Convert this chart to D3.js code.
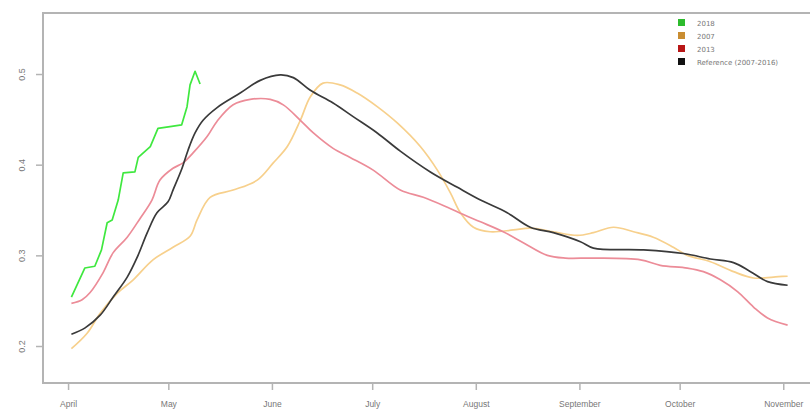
<!DOCTYPE html>
<html>
<head>
<meta charset="utf-8">
<script src="https://cdn.jsdelivr.net/npm/d3@7"></script>
<style>
  body { margin: 0; background: #fff; }
  svg { display: block; font-family: "DejaVu Sans", sans-serif; }
</style>
</head>
<body>
<svg id="chart" width="810" height="409"></svg>
<script>
// days are counted from April 1
var monthDays = [0, 30, 61, 91, 122, 153, 183, 214];
var monthNames = ['April', 'May', 'June', 'July', 'August', 'September', 'October', 'November'];
var yTicks = [0.2, 0.3, 0.4, 0.5];

var green2018Days = [1, 5, 8, 10, 11.7, 13.2, 15, 16.5, 20, 21, 24.6, 26.9, 30.5, 34, 35.6, 36.5, 38, 39.5];
var green2018 = [0.254, 0.286, 0.288, 0.306, 0.336, 0.339, 0.361, 0.391, 0.392, 0.408, 0.42, 0.44, 0.442, 0.444, 0.464, 0.488, 0.503, 0.489];

var orange2007Days = [1, 5.7, 9.6, 14.7, 19.5, 25.4, 31.4, 36.5, 38.6, 42.5, 49.4, 56.6, 61.4, 65.6, 69.5, 72.5, 76.3, 81.4, 86.5, 92.5, 98.5, 105.4, 110.5, 114.4, 117.4, 121.3, 126.3, 133.2, 138.3, 145.2, 152.4, 157.2, 163.2, 169.2, 175.1, 181.1, 185.3, 192.2, 199.1, 205.1, 211.1, 215.3];
var orange2007 = [0.197, 0.214, 0.236, 0.258, 0.273, 0.295, 0.309, 0.321, 0.339, 0.364, 0.372, 0.383, 0.402, 0.42, 0.449, 0.475, 0.49, 0.488, 0.479, 0.464, 0.446, 0.42, 0.394, 0.369, 0.347, 0.331, 0.326, 0.328, 0.33, 0.326, 0.322, 0.325, 0.331, 0.326, 0.32, 0.309, 0.3, 0.293, 0.282, 0.275, 0.276, 0.277];

var red2013Days = [1, 4.2, 6.6, 10.5, 13.5, 17.7, 21.6, 25.1, 27.5, 31.4, 34.4, 37.4, 41.6, 44.6, 49.4, 54.5, 60.5, 64.4, 69.5, 73.4, 79.3, 84.4, 91.3, 99.4, 106.3, 113.5, 118.3, 123.4, 130.2, 136.2, 143.4, 148.8, 157.2, 171.3, 177.2, 185.3, 190.1, 195.2, 200.3, 205.1, 209.3, 215.3];
var red2013 = [0.247, 0.251, 0.259, 0.281, 0.303, 0.32, 0.341, 0.361, 0.383, 0.396, 0.402, 0.413, 0.431, 0.448, 0.466, 0.472, 0.472, 0.466, 0.449, 0.435, 0.418, 0.408, 0.394, 0.372, 0.364, 0.353, 0.345, 0.337, 0.326, 0.314, 0.3, 0.297, 0.297, 0.295, 0.289, 0.286, 0.282, 0.273, 0.26, 0.243, 0.231, 0.223];

var refDays = [1, 5.1, 9.6, 13.5, 17.7, 20.7, 23.7, 26.6, 29.9, 31.4, 34.1, 35.9, 38, 40.4, 44.6, 51.5, 57.5, 63.5, 67.4, 72.5, 79.3, 85.3, 92.5, 99.4, 108.4, 116.5, 123.4, 131.4, 138.3, 145.2, 153.3, 157.2, 172.2, 184.1, 192.2, 199.1, 204.2, 209.3, 215.3];
var refValues = [0.213, 0.22, 0.234, 0.254, 0.276, 0.298, 0.325, 0.347, 0.359, 0.372, 0.396, 0.416, 0.435, 0.449, 0.463, 0.479, 0.493, 0.499, 0.496, 0.482, 0.468, 0.453, 0.435, 0.415, 0.392, 0.375, 0.361, 0.347, 0.331, 0.325, 0.315, 0.308, 0.306, 0.302, 0.296, 0.292, 0.282, 0.271, 0.267];

(function() {
  'use strict';

  // green is a raw (jagged) series, the others are smoothed
  var series = [
    { name: '2018', days: green2018Days, values: green2018, line: '#3fe83f', key: '#2dbb2d', curve: d3.curveLinear },
    { name: '2007', days: orange2007Days, values: orange2007, line: '#f7d08c', key: '#c98d32', curve: d3.curveCatmullRom.alpha(0.5) },
    { name: '2013', days: red2013Days, values: red2013, line: '#ec8c98', key: '#b81616', curve: d3.curveCatmullRom.alpha(0.5) },
    { name: 'Reference (2007-2016)', days: refDays, values: refValues, line: '#3a3a3a', key: '#111111', curve: d3.curveCatmullRom.alpha(0.5) }
  ];

  var svg = d3.select('#chart');
  var plotLeft = 43, plotTop = 13, plotBottom = 383;

  var x = d3.scaleLinear().domain([-7.5, 222]).range([plotLeft, 810]);
  var y = d3.scaleLinear().domain([0.1592, 0.5673]).range([plotBottom, plotTop]);

  var grey = '#b4b4b4';
  var textGrey = '#777';

  // frame (right side runs off the picture)
  svg.append('path')
    .attr('d', 'M830,' + plotTop + 'H' + plotLeft + 'V' + plotBottom + 'H830')
    .attr('fill', 'none')
    .attr('stroke', grey)
    .attr('stroke-width', 2);

  // x axis
  var xAxis = svg.append('g')
    .attr('transform', 'translate(0,' + plotBottom + ')')
    .call(d3.axisBottom(x).tickValues(monthDays).tickSize(7).tickPadding(11)
      .tickFormat(function(d, i) { return monthNames[i]; }));
  xAxis.select('.domain').remove();
  xAxis.selectAll('line').attr('stroke', grey).attr('stroke-width', 1.5);
  xAxis.selectAll('text').attr('fill', textGrey).attr('font-size', 8.5);

  // y axis, labels turned like R's default
  var yAxis = svg.append('g')
    .attr('transform', 'translate(' + plotLeft + ',0)')
    .call(d3.axisLeft(y).tickValues(yTicks).tickSize(7).tickFormat(d3.format('.1f')));
  yAxis.select('.domain').remove();
  yAxis.selectAll('line').attr('stroke', grey).attr('stroke-width', 1.5);
  yAxis.selectAll('text')
    .attr('fill', textGrey)
    .attr('font-size', 9)
    .attr('text-anchor', 'middle')
    .attr('x', 0).attr('dy', 0)
    .attr('transform', 'translate(-18,0) rotate(-90)');

  svg.append('g').selectAll('path')
    .data(series)
    .enter().append('path')
    .attr('fill', 'none')
    .attr('stroke', function(d) { return d.line; })
    .attr('stroke-width', 1.7)
    .attr('stroke-linejoin', 'round')
    .attr('d', function(d) {
      return d3.line()
        .x(function(p) { return x(p[0]); })
        .y(function(p) { return y(p[1]); })
        .curve(d.curve)(d3.zip(d.days, d.values));
    });

  // legend
  var legend = svg.append('g').attr('transform', 'translate(678,19)');
  var item = legend.selectAll('g')
    .data(series)
    .enter().append('g')
    .attr('transform', function(d, i) { return 'translate(0,' + (i * 13) + ')'; });
  item.append('rect')
    .attr('width', 7).attr('height', 7)
    .attr('fill', function(d) { return d.key; });
  item.append('text')
    .attr('x', 19).attr('y', 6.5)
    .attr('font-size', 7)
    .attr('fill', textGrey)
    .text(function(d) { return d.name; });
})();
</script>
</body>
</html>
